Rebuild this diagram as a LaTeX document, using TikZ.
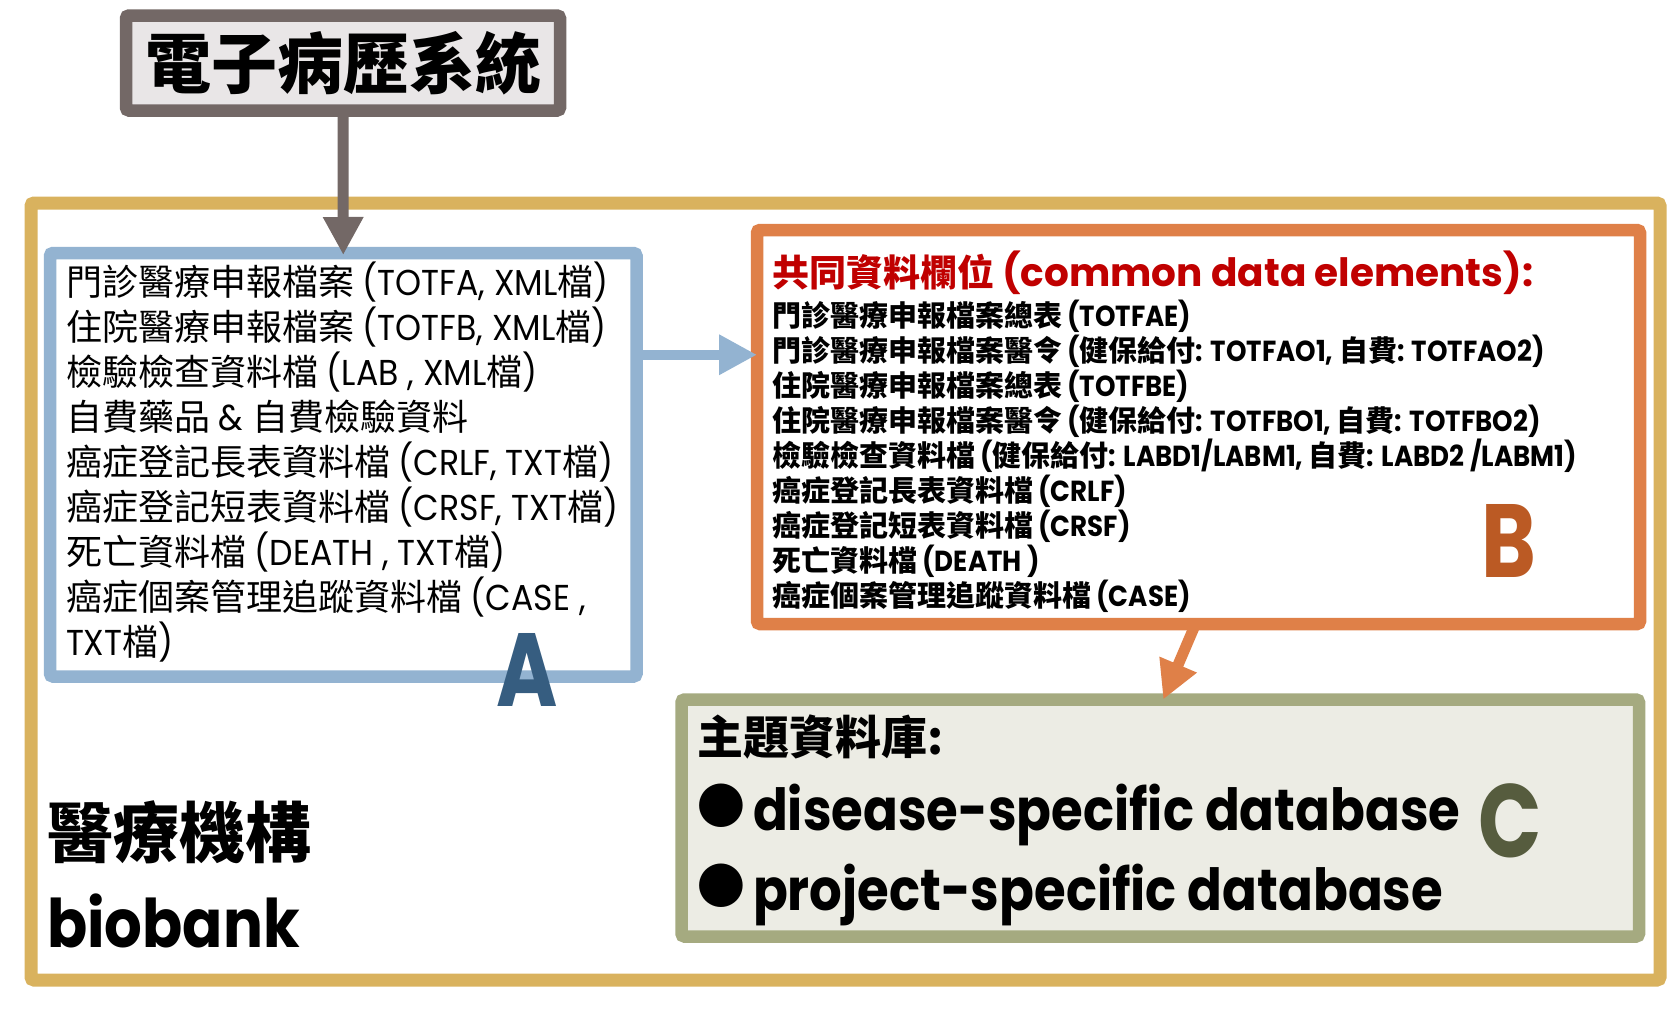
\documentclass[tikz,border=0pt]{standalone}
\usepackage{fontspec}
\setmainfont{Poppins}
\newfontfamily\tcfont{Noto Sans CJK TC}
\newfontfamily\srcfont{Poppins}[FakeStretch=0.92]
\newfontfamily\condfont{Poppins}[FakeStretch=0.9]
\newfontfamily\dbfont{Poppins}[FakeStretch=0.885]
\newfontfamily\letterfont{Poppins}[FakeStretch=0.8]
\newfontfamily\dotfont{DejaVu Sans}
\usetikzlibrary{arrows.meta,positioning}
\newcommand{\zh}[1]{{\tcfont #1}}

\definecolor{goldframe}{RGB}{217,178,94}
\definecolor{emrgray}{RGB}{115,104,102}
\definecolor{emrfill}{RGB}{233,230,231}
\definecolor{srcblue}{RGB}{147,179,209}
\definecolor{cdeorange}{RGB}{223,128,72}
\definecolor{themegreen}{RGB}{165,170,128}
\definecolor{themefill}{RGB}{236,236,228}
\definecolor{titlered}{RGB}{192,0,0}
\definecolor{letterA}{RGB}{54,93,128}
\definecolor{letterB}{RGB}{187,90,36}
\definecolor{letterC}{RGB}{86,92,62}

\tikzset{
	box/.style={draw, line width=12.5pt, rounded corners=3pt, anchor=north west, inner sep=0pt, outer sep=0pt},
	listA/.style={anchor=base west, inner sep=0pt, font=\fontsize{36}{45}\selectfont\srcfont},
	listB/.style={anchor=base west, inner sep=0pt, font=\fontsize{29}{35}\selectfont\bfseries\condfont},
	bigletter/.style={anchor=base, inner sep=0pt, font=\fontsize{104}{104}\selectfont\bfseries\letterfont},
	bullet/.style={font=\fontsize{57}{57}\selectfont\dotfont},
	flow/.style={-{Triangle[width=38pt,length=38pt]}, line width=11pt},
}

\begin{document}
\begin{tikzpicture}[x=1pt, y=-1pt, every node/.style={inner sep=0pt, outer sep=0pt}]
				\useasboundingbox (0,0) rectangle (1667,1010);
				% 1. 醫療機構外框
				\node[box, draw=goldframe, line width=13pt, minimum width=1629pt, minimum height=777pt] (frame) at (31,203) {};
				\node[anchor=base west, font=\fontsize{66}{66}\selectfont\bfseries\tcfont] (orgzh) at (47,857) {醫療機構};
				\node[anchor=base west, font=\fontsize{67}{67}\selectfont\bfseries\dbfont] (orgen) at (47,947) {biobank};
				
				% 2. 電子病歷系統
				\node[box, anchor=north west, draw=emrgray, fill=emrfill, minimum width=434pt, minimum height=95pt,
					font=\fontsize{66}{66}\selectfont\bfseries\tcfont] (emr) at (126,15.5) {電子病歷系統};
				
				% 3. A: 原始資料檔
				\node[box, draw=srcblue, fill=white, minimum width=586.5pt, minimum height=423.5pt] (srcA) at (50,253) {};
				\foreach \txt [count=\i] in {
					{\zh{門診醫療申報檔案} (TOTFA, XML\zh{檔})},
					{\zh{住院醫療申報檔案} (TOTFB, XML\zh{檔})},
					{\zh{檢驗檢查資料檔} (LAB , XML\zh{檔})},
					{\zh{自費藥品} \& \zh{自費檢驗資料}},
					{\zh{癌症登記長表資料檔} (CRLF, TXT\zh{檔})},
					{\zh{癌症登記短表資料檔} (CRSF, TXT\zh{檔})},
					{\zh{死亡資料檔} (DEATH , TXT\zh{檔})},
					{\zh{癌症個案管理追蹤資料檔} (CASE ,},
					{TXT\zh{檔})}}
					\node[listA] (a\i) at (66,{250+45*\i}) {\txt};
				
				% 4. B: 共同資料欄位
				\node[box, draw=cdeorange, fill=white, minimum width=883pt, minimum height=394pt] (cde) at (757,230) {};
				\node[anchor=base west, text=titlered, font=\fontsize{39}{39}\selectfont\bfseries] (cdetitle) at (772,286)
					{{\fontsize{37}{37}\selectfont\tcfont 共同資料欄位} (common data elements):};
				\foreach \txt [count=\i] in {
					{\zh{門診醫療申報檔案總表} (TOTFAE)},
					{\zh{門診醫療申報檔案醫令} (\zh{健保給付}: TOTFAO1, \zh{自費}: TOTFAO2)},
					{\zh{住院醫療申報檔案總表} (TOTFBE)},
					{\zh{住院醫療申報檔案醫令} (\zh{健保給付}: TOTFBO1, \zh{自費}: TOTFBO2)},
					{\zh{檢驗檢查資料檔} (\zh{健保給付}: LABD1/LABM1, \zh{自費}: LABD2 /LABM1)},
					{\zh{癌症登記長表資料檔} (CRLF)},
					{\zh{癌症登記短表資料檔} (CRSF)},
					{\zh{死亡資料檔} (DEATH )},
					{\zh{癌症個案管理追蹤資料檔} (CASE)}}
					\node[listB] (b\i) at (772,{291+35*\i}) {\txt};
				
				% 5. C: 主題資料庫
				\node[box, draw=themegreen, fill=themefill, minimum width=957.5pt, minimum height=237pt] (theme) at (681.5,699.5) {};
				\node[anchor=base west, font=\fontsize{46}{46}\selectfont\bfseries\tcfont] (themetitle) at (697,754) {主題資料庫:};
				\node[bullet] (dot1) at (721,805.5) {●};
				\node[bullet] (dot2) at (721,886) {●};
				\node[anchor=base west, font=\fontsize{58}{58}\selectfont\bfseries\dbfont] (db1) at (753,830) {disease-specific database};
				\node[anchor=base west, font=\fontsize{58}{58}\selectfont\bfseries\dbfont] (db2) at (753,910) {project-specific database};
				
				% 6. 箭頭
				\draw[flow, emrgray] (emr.south) -- ([yshift=-2pt]srcA.north);
				\draw[flow, srcblue, line width=10pt] ([yshift=110pt]srcA.east) -- ([yshift=110pt]srcA.east -| cde.west);
				\draw[flow, cdeorange] ([xshift=-3pt]cde.south) -- ([xshift=3pt]theme.north);
				
				% 7. 標記字母
				\node[bigletter, text=letterA] (tagA) at (527.5,706) {A};
				\node[bigletter, text=letterB] (tagB) at (1509,577) {B};
				\node[bigletter, text=letterC] (tagC) at (1510.5,857) {C};
			\end{tikzpicture}
\end{document}
